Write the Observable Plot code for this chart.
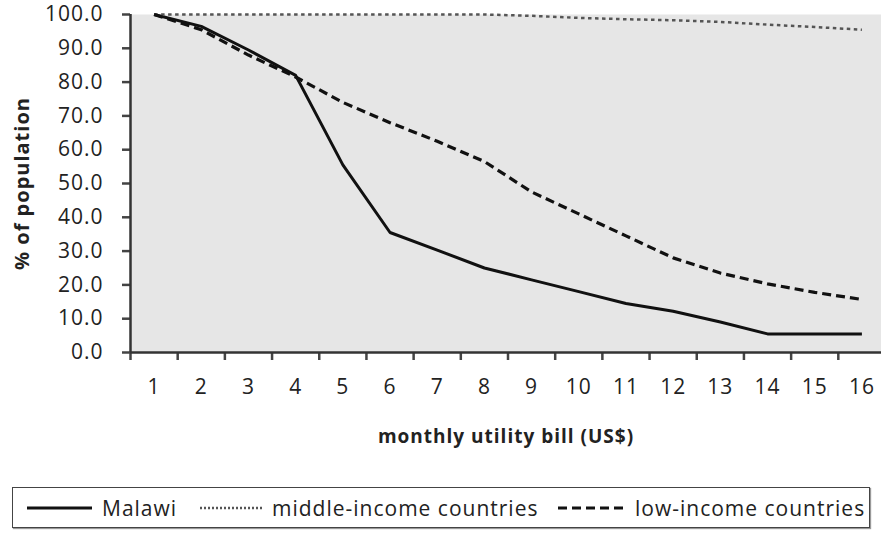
<!DOCTYPE html>
<html><head><meta charset="utf-8">
<script src="https://cdn.jsdelivr.net/npm/d3@7"></script>
<script src="https://cdn.jsdelivr.net/npm/@observablehq/plot@0.6"></script>
<style>
body{margin:0;background:#fff;font-family:"Open Sans",Lato,sans-serif;width:881px;height:535px;overflow:hidden;position:relative;}
#chart{position:absolute;left:0;top:0;}
#legend{position:absolute;left:12px;top:487px;width:856px;height:39px;border:1.5px solid #444;box-shadow:1px 1px 1px #999;background:#fff;}
.item{position:absolute;top:0;height:39px;display:flex;align-items:center;font-size:21px;letter-spacing:1px;color:#222;white-space:nowrap;}
.item svg{display:block;}
</style></head><body><div id="chart"></div><div id="legend"></div>
<script>
const bills = [1,2,3,4,5,6,7,8,9,10,11,12,13,14,15,16];
const malawi = [100, 96.5, 89.5, 82, 55.5, 35.5, 30.3, 25, 21.5, 18, 14.5, 12.2, 9, 5.5, 5.5, 5.5];
const middleIncome = [100, 100, 100, 100, 100, 100, 100, 100, 99.6, 99, 98.6, 98.3, 97.8, 97, 96.3, 95.5];
const lowIncome = [100, 95.5, 88, 81.5, 74, 68, 62.5, 56.5, 47.5, 41, 34.5, 28, 23.5, 20.3, 17.8, 15.7];
const yTicks = [0, 10, 20, 30, 40, 50, 60, 70, 80, 90, 100];
const seriesNames = ["Malawi", "middle-income countries", "low-income countries"];
const xTitle = "monthly utility bill (US$)";
const yTitle = "% of population";

const seriesValues = [malawi, middleIncome, lowIncome];
const styles = [
  {stroke:"#111", strokeWidth:3, dash:null},
  {stroke:"#555", strokeWidth:2.5, dash:"3.5,3.5"},
  {stroke:"#111", strokeWidth:3.2, dash:"9,5"}
];
const rows = seriesNames.map((name, s) => bills.map((b, i) => ({bill:b, value:seriesValues[s][i], series:name})));
const boundaries = bills.map(b => b - 0.5);

const lineMarks = rows.map((data, s) => Plot.line(data, {
  x:"bill", y:"value", stroke:styles[s].stroke, strokeWidth:styles[s].strokeWidth,
  strokeDasharray:styles[s].dash, strokeLinejoin:"round", strokeLinecap:"butt"
}));

const chart = Plot.plot({
  width:881, height:460, marginLeft:130, marginRight:0, marginTop:14, marginBottom:108,
  x:{type:"linear", domain:[0.5, 16.5], range:[130, 885]},
  y:{domain:[0, 100]},
  style:{fontFamily:"'Open Sans', Lato, sans-serif", fontSize:"21px", color:"#222", background:"#fff", letterSpacing:"1px"},
  marks:[
    Plot.frame({fill:"#e6e6e6", stroke:null}),
    Plot.axisY({ticks:yTicks, tickFormat:d => d.toFixed(1), tickSize:8, tickPadding:19, label:null, stroke:"#444", strokeWidth:2.5, fontSize:21}),
    Plot.axisX({ticks:bills, tickFormat:d => String(d), tickSize:0, tickPadding:27, label:null, fontSize:21}),
    Plot.axisX({ticks:boundaries, tickFormat:() => "", tickSize:8, label:null, stroke:"#444", strokeWidth:2.5}),
    Plot.ruleY([0], {stroke:"#333", strokeWidth:2.5}),
    Plot.ruleX([0.5], {stroke:"#333", strokeWidth:2.5}),
    ...lineMarks,
    Plot.text([yTitle], {frameAnchor:"left", textAnchor:"middle", rotate:-90, dx:-108, fontWeight:"bold", fontSize:20, fill:"#222"}),
    Plot.text([xTitle], {frameAnchor:"bottom", textAnchor:"middle", dy:90, fontWeight:"bold", fontSize:19, fill:"#222"})
  ]
});
document.getElementById("chart").append(chart);

const legend = document.getElementById("legend");
const itemPos = [{left:14, len:65}, {left:187, len:62}, {left:545, len:67}];
seriesNames.forEach((name, s) => {
  const div = document.createElement("div");
  div.className = "item";
  div.style.left = itemPos[s].left + "px";
  const ns = "http://www.w3.org/2000/svg";
  const svg = document.createElementNS(ns, "svg");
  svg.setAttribute("width", itemPos[s].len + 10);
  svg.setAttribute("height", 10);
  const ln = document.createElementNS(ns, "line");
  ln.setAttribute("x1", 0); ln.setAttribute("x2", itemPos[s].len);
  ln.setAttribute("y1", 5); ln.setAttribute("y2", 5);
  ln.setAttribute("stroke", styles[s].stroke);
  ln.setAttribute("stroke-width", styles[s].strokeWidth);
  if (styles[s].dash) ln.setAttribute("stroke-dasharray", s === 1 ? "2,2" : styles[s].dash);
  svg.append(ln);
  div.append(svg);
  const span = document.createElement("span");
  span.textContent = name;
  div.append(span);
  legend.append(div);
});
</script></body></html>
